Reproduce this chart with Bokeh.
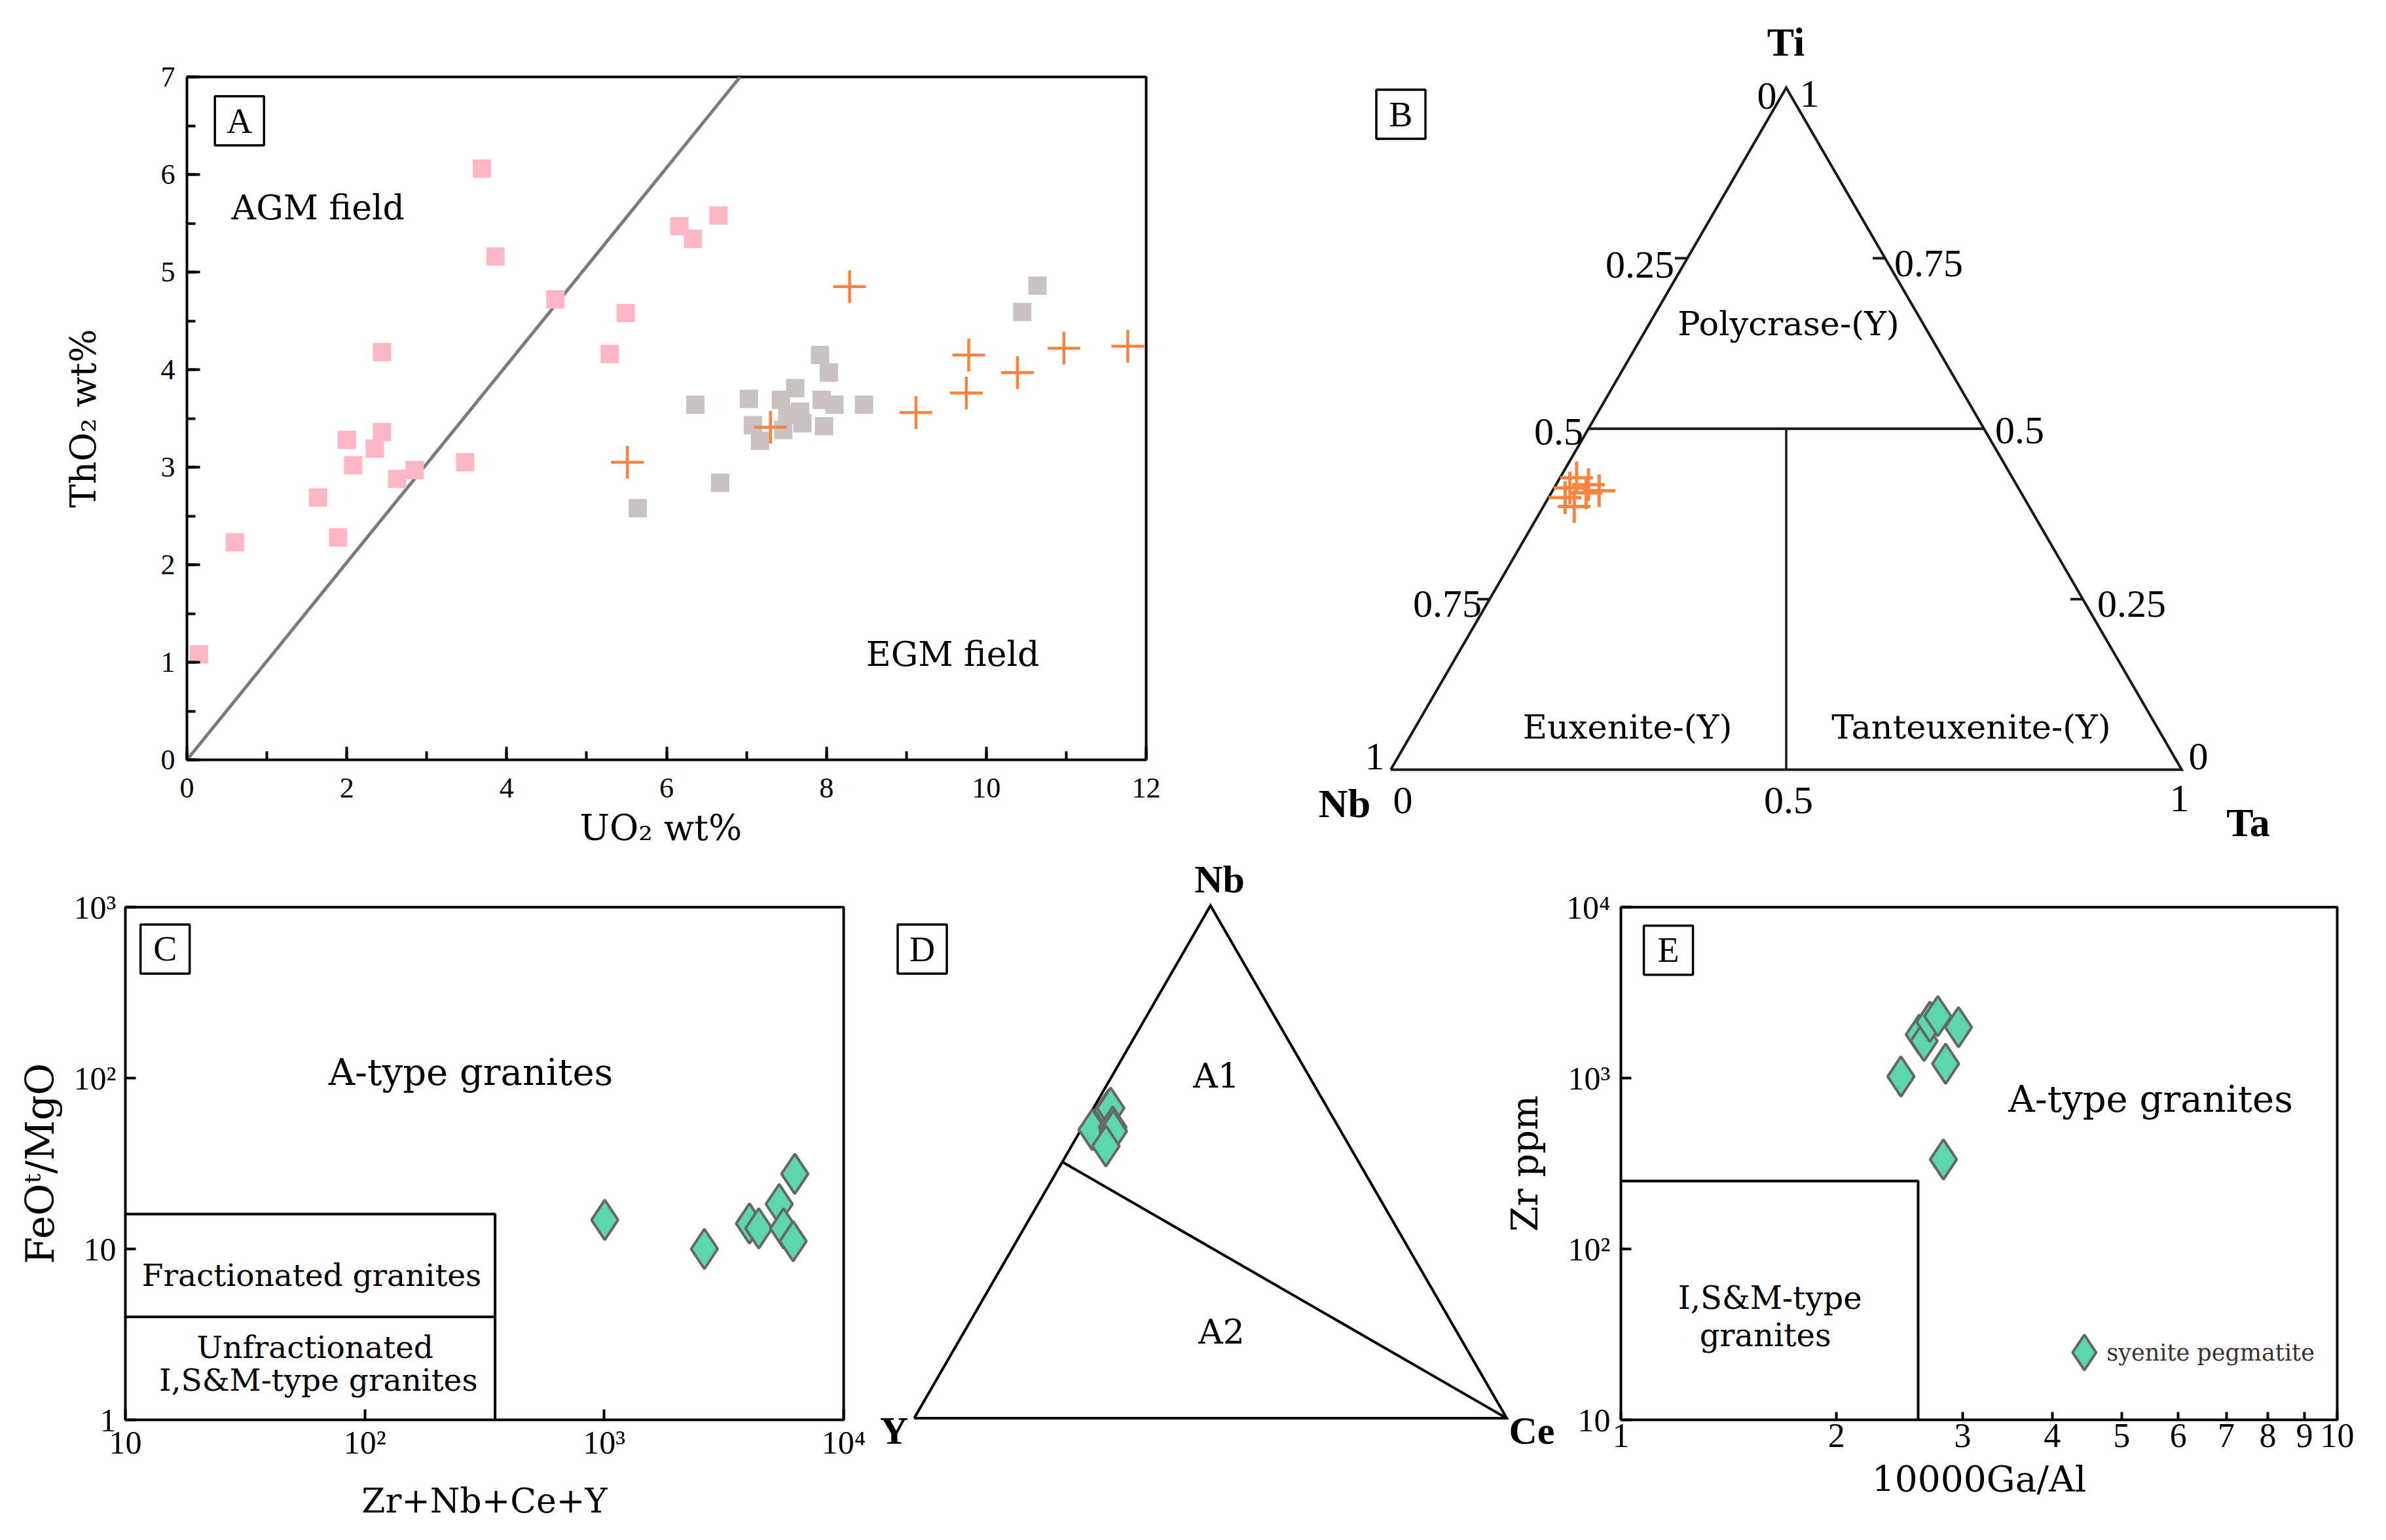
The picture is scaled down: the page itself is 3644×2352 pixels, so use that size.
import math
from bokeh.plotting import figure
from bokeh.models import Range1d, Label, FixedTicker, SingleIntervalTicker
from bokeh.layouts import column, row
from bokeh.embed import file_html
from bokeh.resources import INLINE

# ======================= DATA =======================
# Panel A: UO2 wt% vs ThO2 wt%
agm_uo2 = [0.15, 0.60, 1.64, 1.89, 2.00, 2.08, 2.35, 2.44, 2.44, 2.63,
           2.85, 3.48, 3.69, 3.86, 4.61, 5.29, 5.49, 6.16, 6.33, 6.65]
agm_tho2 = [1.08, 2.23, 2.69, 2.28, 3.28, 3.02, 3.19, 3.36, 4.18, 2.88,
            2.97, 3.05, 6.06, 5.16, 4.72, 4.16, 4.58, 5.47, 5.34, 5.58]
egm_uo2 = [5.64, 6.36, 6.67, 7.03, 7.08, 7.17, 7.43, 7.46, 7.51, 7.61,
           7.67, 7.70, 7.92, 7.94, 7.97, 8.03, 8.10, 8.47, 10.45, 10.64]
egm_tho2 = [2.58, 3.64, 2.84, 3.70, 3.43, 3.27, 3.69, 3.38, 3.54, 3.81,
            3.57, 3.45, 4.15, 3.69, 3.42, 3.97, 3.64, 3.64, 4.59, 4.86]
sample_uo2 = [5.51, 7.30, 8.29, 9.12, 9.75, 9.78, 10.39, 10.97, 11.77]
sample_tho2 = [3.05, 3.41, 4.85, 3.56, 3.76, 4.15, 3.97, 4.22, 4.24]
boundary_uo2 = [0.0, 6.92]
boundary_tho2 = [0.0, 7.0]

# Panel B: Nb-Ta-Ti ternary (fractions)
b_nb = [0.551, 0.542, 0.532, 0.580, 0.575, 0.550, 0.567]
b_ta = [0.021, 0.041, 0.059, 0.021, 0.039, 0.044, 0.020]
b_ti = [0.428, 0.418, 0.409, 0.399, 0.386, 0.406, 0.413]
b_tick_vals = [0.25, 0.75]

# Panel C: Zr+Nb+Ce+Y vs FeOt/MgO
c_sum = [1005, 2620, 4040, 4420, 5380, 5610, 6150, 6250]
c_ratio = [14.8, 10.0, 14.1, 13.2, 18.3, 13.2, 11.1, 27.5]
c_frac_x = [10, 350, 350]
c_frac_y = [16, 16, 1]
c_unfrac_x = [10, 350]
c_unfrac_y = [4, 4]
c_xticks = [10, 100, 1000, 10000]
c_xlabels = ["10", "10²", "10³", "10⁴"]
c_yticks = [1, 10, 100, 1000]
c_ylabels = ["1", "10", "10²", "10³"]

# Panel D: Nb-Y-Ce ternary (fractions)
d_nb = [0.601, 0.605, 0.563, 0.568, 0.560, 0.531]
d_y = [0.372, 0.366, 0.418, 0.381, 0.384, 0.411]
d_ce = [0.027, 0.029, 0.019, 0.051, 0.056, 0.058]
d_split_start = (0.5, 0.5, 0.0)   # (Nb, Y, Ce)
d_split_end = (0.0, 0.0, 1.0)

# Panel E: 10000Ga/Al vs Zr ppm
e_gaal = [2.46, 2.61, 2.65, 2.70, 2.77, 2.96, 2.84, 2.82]
e_zr = [1021, 1795, 1647, 2134, 2302, 1982, 1213, 334]
e_box_x = [1, 2.6, 2.6]
e_box_y = [250, 250, 10]
e_xticks = [1, 2, 3, 4, 5, 6, 7, 8, 9, 10]
e_xlabels = ["1", "2", "3", "4", "5", "6", "7", "8", "9", "10"]
e_yticks = [10, 100, 1000, 10000]
e_ylabels = ["10", "10²", "10³", "10⁴"]

# ======================= STYLE / LAYOUT =======================
TICK_FONT = "Liberation Serif"
LABEL_FONT = "DejaVu Serif"
PINK = "#ffb7c5"
GREY = "#c9c2c2"
ORANGE = "#fa8440"
MINT = "#5dd6ae"
EDGE = "#666666"

TOP_H = 1310
ROW2_TOP = TOP_H
PAGE_H = 2330
BOT_H = PAGE_H - ROW2_TOP
A_W = 1900
B_W = 1720
C_W = 1330
D_LEFT = 1330
D_W = 1060
E_LEFT = 2270
E_W = 3620 - E_LEFT
BOT_FRAME_TOP = 1385
BOT_FRAME_BOTTOM = 2168


def new_fig(width, height, **kw):
    p = figure(width=width, height=height, output_backend="svg",
               toolbar_location=None, **kw)
    p.xgrid.visible = False
    p.ygrid.visible = False
    return p


def style_axes(p, tick_size, tick_len, minor_len=None):
    if minor_len is None:
        minor_len = tick_len
    for ax in (p.xaxis[0], p.yaxis[0]):
        ax.axis_line_color = None
        ax.major_tick_in = tick_len
        ax.major_tick_out = 0
        ax.minor_tick_in = minor_len
        ax.minor_tick_out = 0
        ax.major_tick_line_width = 4
        ax.minor_tick_line_width = 4
        ax.major_tick_line_color = "black"
        ax.minor_tick_line_color = "black"
        ax.major_label_text_font = TICK_FONT
        ax.major_label_text_font_size = f"{tick_size}px"
        ax.major_label_text_color = "black"
        ax.axis_label_text_font = LABEL_FONT
        ax.axis_label_text_font_style = "normal"
        ax.axis_label_text_color = "black"
    p.outline_line_color = "black"
    p.outline_line_width = 4
    p.outline_line_alpha = 1.0


def text(p, x, y, s, size, font=LABEL_FONT, align="center", baseline="middle",
         style="normal", color="black"):
    p.add_layout(Label(x=x, y=y, text=s, text_font=font,
                       text_font_size=f"{size}px", text_align=align,
                       text_baseline=baseline, text_font_style=style,
                       text_color=color))


def letter_box(p, x, y, letter, box=75):
    p.rect(x=[x], y=[y], width=box, height=box, width_units="screen",
           height_units="screen", fill_color="white", line_color="black",
           line_width=3.5)
    text(p, x, y, letter, 54, font=TICK_FONT)


# ======================= PANEL A =======================
pA = new_fig(A_W, TOP_H, x_range=Range1d(0, 12), y_range=Range1d(0, 7),
             frame_width=1465, frame_height=1043,
             min_border_left=285, min_border_right=150,
             min_border_top=117, min_border_bottom=TOP_H - 1160)
pA.xaxis.ticker = SingleIntervalTicker(interval=2, num_minor_ticks=2)
pA.yaxis.ticker = SingleIntervalTicker(interval=1, num_minor_ticks=2)
style_axes(pA, 44, 20, 13)
pA.xaxis.major_label_standoff = 28
pA.yaxis.major_label_standoff = 18
pA.xaxis.axis_label = "UO₂  wt%"
pA.yaxis.axis_label = "ThO₂ wt%"
pA.xaxis.axis_label_text_font_size = "54px"
pA.yaxis.axis_label_text_font_size = "54px"
pA.xaxis.axis_label_standoff = 12
pA.yaxis.axis_label_standoff = 84

pA.line(boundary_uo2, boundary_tho2, line_color="#7b7b7b", line_width=5)
pA.scatter(agm_uo2, agm_tho2, marker="square", size=28, fill_color=PINK,
           line_color=None)
pA.scatter(egm_uo2, egm_tho2, marker="square", size=28, fill_color=GREY,
           line_color=None)
pA.scatter(sample_uo2, sample_tho2, marker="cross", size=50,
           line_color=ORANGE, line_width=4.5)
text(pA, 1.64, 5.66, "AGM field", 52)
text(pA, 9.58, 1.085, "EGM field", 52)
letter_box(pA, 0.657, 6.55, "A")

# ======================= PANEL B (ternary Nb-Ta-Ti) =======================
B_NBX, B_NBY = 2123.5, 1175.0     # page px of the Nb vertex
B_SIDE, B_HGT = 1208.0, 1041.5
pB = new_fig(B_W, TOP_H,
             x_range=Range1d((A_W - B_NBX) / B_SIDE, (A_W + B_W - B_NBX) / B_SIDE),
             y_range=Range1d(-(TOP_H - B_NBY) / B_HGT, B_NBY / B_HGT),
             x_axis_type=None, y_axis_type=None, min_border=0)
pB.outline_line_color = None


def b_xy(nb, ta, ti):
    return ta + ti / 2.0, ti


def b_pg(px, py):
    return (px - B_NBX) / B_SIDE, (B_NBY - py) / B_HGT


tri = [b_xy(1, 0, 0), b_xy(0, 1, 0), b_xy(0, 0, 1), b_xy(1, 0, 0)]
pB.line([t[0] for t in tri], [t[1] for t in tri], line_color="#1a1a1a",
        line_width=4, line_join="miter")
h0, h1 = b_xy(0.5, 0, 0.5), b_xy(0, 0.5, 0.5)
pB.line([h0[0], h1[0]], [h0[1], h1[1]], line_color="#1a1a1a", line_width=4)
v0, v1 = b_xy(0.25, 0.25, 0.5), b_xy(0.5, 0.5, 0.0)
pB.line([v0[0], v1[0]], [v0[1], v1[1]], line_color="#1a1a1a", line_width=3.5)
tick_dx = 19.0 / B_SIDE
lx, ly, rx, ry = [], [], [], []
for t in b_tick_vals:
    xl, yl = b_xy(t, 0, 1 - t)          # left edge (Nb axis)
    lx.append(xl); ly.append(yl)
    xr, yr = b_xy(0, 1 - t, t)          # right edge (Ti axis)
    rx.append(xr); ry.append(yr)
pB.segment(x0=lx, y0=ly, x1=[v - tick_dx for v in lx], y1=ly,
           line_color="#1a1a1a", line_width=4)
pB.segment(x0=rx, y0=ry, x1=[v - tick_dx for v in rx], y1=ry,
           line_color="#1a1a1a", line_width=4)
bx_pts = [b_xy(a, b, c) for a, b, c in zip(b_nb, b_ta, b_ti)]
pB.scatter([q[0] for q in bx_pts], [q[1] for q in bx_pts], marker="cross",
           size=50, line_color=ORANGE, line_width=5)

b_texts = [
    ("0", 2698, 146), ("1", 2763, 143),
    ("0.25", 2504, 404), ("0.75", 2945, 402),
    ("0.5", 2380, 659), ("0.5", 3084, 657),
    ("0.75", 2210, 922), ("0.25", 3255, 922),
    ("1", 2099, 1155), ("0", 3357, 1155),
    ("0", 2142, 1222), ("0.5", 2731, 1222), ("1", 3328, 1219),
]
for s, px, py in b_texts:
    x, y = b_pg(px, py)
    text(pB, x, y, s, 60, font=TICK_FONT)
for s, px, py in [("Ti", 2727, 63), ("Nb", 2053, 1226), ("Ta", 3433, 1255)]:
    x, y = b_pg(px, py)
    text(pB, x, y, s, 62, font=TICK_FONT, style="bold")
for s, px, py in [("Polycrase-(Y)", 2731, 494), ("Euxenite-(Y)", 2485, 1110),
                  ("Tanteuxenite-(Y)", 3010, 1110)]:
    x, y = b_pg(px, py)
    text(pB, x, y, s, 51)
bx, by = b_pg(2139, 174)
letter_box(pB, bx, by, "B")

# ======================= PANEL C =======================
pC = new_fig(C_W, BOT_H, x_axis_type="log", y_axis_type="log",
             x_range=Range1d(10, 1e4), y_range=Range1d(1, 1e3),
             frame_width=1097, frame_height=BOT_FRAME_BOTTOM - BOT_FRAME_TOP,
             min_border_left=191, min_border_right=42,
             min_border_top=BOT_FRAME_TOP - ROW2_TOP,
             min_border_bottom=PAGE_H - BOT_FRAME_BOTTOM)
pC.xaxis.ticker = FixedTicker(ticks=c_xticks, minor_ticks=[])
pC.yaxis.ticker = FixedTicker(ticks=c_yticks, minor_ticks=[])
pC.xaxis.major_label_overrides = dict(zip(c_xticks, c_xlabels))
pC.yaxis.major_label_overrides = dict(zip(c_yticks, c_ylabels))
style_axes(pC, 50, 16)
pC.xaxis.major_label_standoff = 6
pC.yaxis.major_label_standoff = 14
pC.xaxis.axis_label = "Zr+Nb+Ce+Y"
pC.yaxis.axis_label = "FeOᵗ/MgO"
pC.xaxis.axis_label_text_font_size = "52px"
pC.yaxis.axis_label_text_font_size = "60px"
pC.xaxis.axis_label_standoff = 28
pC.yaxis.axis_label_standoff = 14
pC.line(c_frac_x, c_frac_y, line_color="black", line_width=4)
pC.line(c_unfrac_x, c_unfrac_y, line_color="black", line_width=4)
pC.scatter(c_sum, c_ratio, marker="diamond", size=61, fill_color=MINT,
           line_color=EDGE, line_width=4)
text(pC, 277, 108, "A-type granites", 56)
text(pC, 60, 7.0, "Fractionated granites", 47)
text(pC, 62, 2.66, "Unfractionated", 47)
text(pC, 64, 1.71, "I,S&M-type granites", 47)
letter_box(pC, 14.65, 569, "C")

# ======================= PANEL D (ternary Y-Ce-Nb) =======================
D_YX, D_YY = 1395.7, 2165.6      # page px of the Y vertex
D_SIDE, D_HGT = 905.0, 783.0
pD = new_fig(D_W, BOT_H,
             x_range=Range1d((D_LEFT - D_YX) / D_SIDE, (D_LEFT + D_W - D_YX) / D_SIDE),
             y_range=Range1d(-(PAGE_H - D_YY) / D_HGT, (D_YY - ROW2_TOP) / D_HGT),
             x_axis_type=None, y_axis_type=None, min_border=0)
pD.outline_line_color = None


def d_xy(nb, y, ce):
    return ce + nb / 2.0, nb


def d_pg(px, py):
    return (px - D_YX) / D_SIDE, (D_YY - py) / D_HGT


tri = [d_xy(0, 1, 0), d_xy(0, 0, 1), d_xy(1, 0, 0), d_xy(0, 1, 0)]
pD.line([t[0] for t in tri], [t[1] for t in tri], line_color="black",
        line_width=4, line_join="miter")
s0, s1 = d_xy(*d_split_start), d_xy(*d_split_end)
pD.line([s0[0], s1[0]], [s0[1], s1[1]], line_color="black", line_width=4)
dpts = [d_xy(a, b, c) for a, b, c in zip(d_nb, d_y, d_ce)]
pD.scatter([q[0] for q in dpts], [q[1] for q in dpts], marker="diamond",
           size=62, fill_color=MINT, line_color=EDGE, line_width=4)
for s, px, py in [("Nb", 1862, 1342), ("Y", 1365, 2184), ("Ce", 2339, 2184)]:
    x, y = d_pg(px, py)
    text(pD, x, y, s, 60, font=TICK_FONT, style="bold")
for s, px, py in [("A1", 1857, 1642), ("A2", 1865, 2033)]:
    x, y = d_pg(px, py)
    text(pD, x, y, s, 52)
dx, dy = d_pg(1408, 1449)
letter_box(pD, dx, dy, "D")

# ======================= PANEL E =======================
E_FRAME_L = 2475
pE = new_fig(E_W, BOT_H, x_axis_type="log", y_axis_type="log",
             x_range=Range1d(1, 10), y_range=Range1d(10, 1e4),
             frame_width=1094, frame_height=BOT_FRAME_BOTTOM - BOT_FRAME_TOP,
             min_border_left=E_FRAME_L - E_LEFT, min_border_right=E_LEFT + E_W - 3569,
             min_border_top=BOT_FRAME_TOP - ROW2_TOP,
             min_border_bottom=PAGE_H - BOT_FRAME_BOTTOM)
pE.xaxis.ticker = FixedTicker(ticks=e_xticks, minor_ticks=[])
pE.yaxis.ticker = FixedTicker(ticks=e_yticks, minor_ticks=[])
pE.xaxis.major_label_overrides = dict(zip(e_xticks, e_xlabels))
pE.yaxis.major_label_overrides = dict(zip(e_yticks, e_ylabels))
style_axes(pE, 50, 16)
pE.xaxis.major_tick_in = 12
pE.xaxis.major_label_text_font_size = "52px"
pE.xaxis.major_label_standoff = 6
pE.yaxis.major_label_standoff = 16
pE.xaxis.axis_label = "10000Ga/Al"
pE.yaxis.axis_label = "Zr ppm"
pE.xaxis.axis_label_text_font_size = "55px"
pE.yaxis.axis_label_text_font_size = "56px"
pE.xaxis.axis_label_standoff = 14
pE.yaxis.axis_label_standoff = 28
pE.border_fill_color = None
pE.margin = (0, 0, 0, -(D_LEFT + D_W - E_LEFT))
pE.line(e_box_x, e_box_y, line_color="black", line_width=4)
pE.scatter(e_gaal, e_zr, marker="diamond", size=61, fill_color=MINT,
           line_color=EDGE, line_width=4)
text(pE, 5.49, 757, "A-type granites", 56)
text(pE, 1.615, 51.9, "I,S&M-type", 48)
text(pE, 1.591, 31.3, "granites", 48)
letter_box(pE, 1.165, 5600, "E")
# legend key
pE.scatter([4.436], [24.8], marker="diamond", size=54, fill_color=MINT,
           line_color=EDGE, line_width=4)
text(pE, 4.764, 24.8, "syenite pegmatite", 35, align="left", color="#3a3030")

layout = column(row(pA, column(pB, spacing=0), spacing=0),
                row(pC, column(pD, spacing=0), pE, spacing=0), spacing=0)
open("out.html", "w").write(file_html(layout, INLINE))
